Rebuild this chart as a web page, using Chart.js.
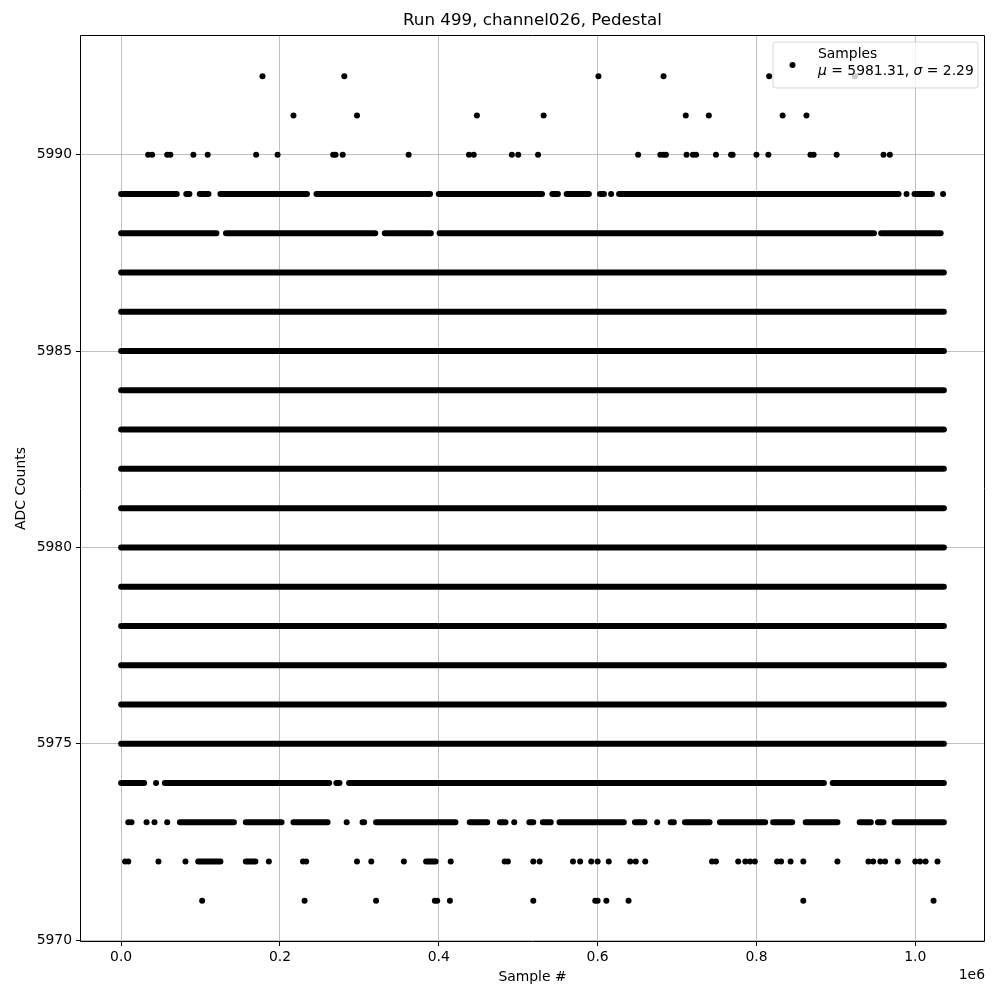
<!DOCTYPE html>
<html>
<head>
<meta charset="utf-8">
<title>Run 499, channel026, Pedestal</title>
<script src="https://cdn.jsdelivr.net/npm/chart.js@4.4.1/dist/chart.umd.min.js"></script>
<style>
  html, body { margin: 0; padding: 0; background: #fff; }
  #wrap { width: 1000px; height: 1000px; position: relative; }
</style>
</head>
<body>
<div id="wrap"><canvas id="pedestalChart"></canvas></div>
<script>
// ===== DATA (sample index, ADC level) =====

// isolated samples per ADC level
const pts5971 = [102000, 231000, 321000, 395000, 398000, 414000, 519000, 597000, 600000, 611000, 639000, 859000, 1023000];
const pts5972 = [5000, 9000, 47000, 81000, 186000, 229000, 233000, 297000, 315000, 356000, 415000, 483000, 487000, 519000, 527000,
  569000, 578000, 592000, 600000, 614000, 641000, 648000, 660000, 744000, 749000, 777000, 786000, 792000, 798000, 826000,
  831000, 843000, 859000, 902000, 941000, 947000, 956000, 962000, 978000, 1000000, 1006000, 1013000, 1028000];
const pts5973 = [9000, 13000, 32000, 42000, 58000, 284000, 495000, 675000];
const pts5974 = [44000];
const pts5989 = [617000, 989000, 1035000];
const pts5990 = [34000, 39000, 58000, 62000, 91000, 109000, 170000, 197000, 267000, 270000, 279000, 362000, 438000, 444000,
  492000, 500000, 525000, 651000, 679000, 683000, 686000, 712000, 720000, 724000, 749000, 768000, 770000, 800000, 815000,
  868000, 872000, 901000, 960000, 968000];
const pts5991 = [217000, 297000, 448000, 532000, 711000, 740000, 833000, 863000];
const pts5992 = [178000, 281000, 601000, 683000, 816000, 924000];

// runs of consecutive samples [first, last] per ADC level
const segs5972 = [[97000, 125000], [157000, 169000], [384000, 396000]];
const segs5973 = [[74000, 142000], [157000, 202000], [217000, 260000], [304000, 306000], [321000, 421000], [439000, 461000],
  [477000, 484000], [514000, 519000], [531000, 541000], [552000, 633000], [647000, 659000], [692000, 696000], [710000, 741000],
  [754000, 811000], [821000, 845000], [862000, 902000], [930000, 944000], [953000, 960000], [974000, 1036000]];
const segs5974 = [[0, 29000], [55000, 262000], [271000, 275000], [287000, 885000], [896000, 1036000]];
const segs5988 = [[0, 120000], [132000, 320000], [332000, 390000], [401000, 948000], [957000, 1032000]];
const segs5989 = [[0, 70000], [82000, 86000], [99000, 110000], [125000, 234000], [246000, 389000], [400000, 530000],
  [543000, 550000], [561000, 589000], [603000, 608000], [627000, 979000], [999000, 1021000]];

// levels that are filled over the whole run
const fullLevels = [5975, 5976, 5977, 5978, 5979, 5980, 5981, 5982, 5983, 5984, 5985, 5986, 5987];
const fullRun = [[0, 1036000]];

const xTicks = [0, 200000, 400000, 600000, 800000, 1000000];
const yTicks = [5970, 5975, 5980, 5985, 5990];

const legendLabel = 'Samples';
const muValue = '5981.31';
const sigmaValue = '2.29';

// ===== BUILD DATASETS =====

const pointSets = [
  [5971, pts5971], [5972, pts5972], [5973, pts5973], [5974, pts5974],
  [5989, pts5989], [5990, pts5990], [5991, pts5991], [5992, pts5992]
];
const segSets = [[5972, segs5972], [5973, segs5973], [5974, segs5974], [5988, segs5988], [5989, segs5989]];
fullLevels.forEach(l => segSets.push([l, fullRun]));

const points = [];
pointSets.forEach(([level, xs]) => xs.forEach(x => points.push({ x: x, y: level })));

const datasets = segSets.map(([level, runs]) => {
  const data = [];
  runs.forEach(([a, b], i) => {
    if (i > 0) data.push({ x: (runs[i - 1][1] + a) / 2, y: null });
    data.push({ x: a, y: level }, { x: b, y: level });
  });
  return {
    type: 'line',
    data: data,
    borderColor: '#000',
    borderWidth: 6,
    borderCapStyle: 'round',
    pointRadius: 0,
    spanGaps: false,
    fill: false
  };
});

datasets.push({
  type: 'scatter',
  data: points,
  backgroundColor: '#000',
  borderWidth: 0,
  pointRadius: 3
});

// ===== TEXT, FRAME AND LEGEND (matplotlib look) =====

const FONT = "'DejaVu Sans', sans-serif";

const decorPlugin = {
  id: 'decor',
  afterDatasetsDraw(chart) {
    const { ctx, chartArea: a } = chart;
    ctx.save();

    // frame (all four spines)
    const L = Math.round(a.left) + 0.5, R = Math.round(a.right) - 0.5;
    const T = Math.round(a.top) + 0.5, B = Math.round(a.bottom) - 0.5;
    ctx.strokeStyle = '#000';
    ctx.lineWidth = 1;
    ctx.beginPath();
    ctx.moveTo(L, T); ctx.lineTo(R, T); ctx.lineTo(R, B); ctx.lineTo(L, B); ctx.closePath();
    ctx.stroke();

    // title and axis labels
    ctx.fillStyle = '#000';
    ctx.textAlign = 'center';
    ctx.textBaseline = 'middle';
    ctx.font = '16.7px ' + FONT;
    ctx.fillText('Run 499, channel026, Pedestal', (a.left + a.right) / 2, 21);
    ctx.font = '13.9px ' + FONT;
    ctx.fillText('Sample #', (a.left + a.right) / 2, 977);
    ctx.save();
    ctx.translate(21, (a.top + a.bottom) / 2);
    ctx.rotate(-Math.PI / 2);
    ctx.fillText('ADC Counts', 0, 0);
    ctx.restore();
    ctx.textAlign = 'right';
    ctx.fillText('1e6', a.right, 975);

    // legend box
    const bx = 773, by = 42, bw = 205, bh = 46, r = 3;
    ctx.beginPath();
    ctx.moveTo(bx + r, by);
    ctx.arcTo(bx + bw, by, bx + bw, by + bh, r);
    ctx.arcTo(bx + bw, by + bh, bx, by + bh, r);
    ctx.arcTo(bx, by + bh, bx, by, r);
    ctx.arcTo(bx, by, bx + bw, by, r);
    ctx.closePath();
    ctx.fillStyle = 'rgba(255,255,255,0.8)';
    ctx.fill();
    ctx.strokeStyle = 'rgba(204,204,204,0.8)';
    ctx.lineWidth = 1;
    ctx.stroke();

    ctx.fillStyle = '#000';
    ctx.beginPath();
    ctx.arc(792.5, 65, 3, 0, Math.PI * 2);
    ctx.fill();

    ctx.textAlign = 'left';
    ctx.textBaseline = 'middle';
    ctx.font = '13.9px ' + FONT;
    ctx.fillText(legendLabel, 818, 54);

    let x = 818;
    const y2 = 71;
    const parts = [
      ['italic', '\u03bc'], ['normal', ' = ' + muValue + ', '],
      ['italic', '\u03c3'], ['normal', ' = ' + sigmaValue]
    ];
    parts.forEach(([style, txt]) => {
      ctx.font = (style === 'italic' ? 'italic ' : '') + '13.9px ' + FONT;
      ctx.fillText(txt, x, y2);
      x += ctx.measureText(txt).width;
    });

    ctx.restore();
  }
};

// ===== CHART =====

const ctx = document.getElementById('pedestalChart').getContext('2d');
const pedestalChart = new Chart(ctx, {
  type: 'scatter',
  data: { datasets: datasets },
  plugins: [decorPlugin],
  options: {
    responsive: true,
    maintainAspectRatio: false,
    animation: false,
    events: [],
    layout: { padding: { top: 35, right: 15, left: 0, bottom: 0 } },
    plugins: {
      legend: { display: false },
      tooltip: { enabled: false },
      title: { display: false }
    },
    scales: {
      x: {
        type: 'linear',
        min: -51800,
        max: 1087800,
        afterBuildTicks: s => { s.ticks = xTicks.map(v => ({ value: v })); },
        afterFit: s => { s.height = 58; },
        grid: { color: '#b0b0b0', lineWidth: 0.8, tickColor: '#000', tickLength: 4, tickWidth: 1 },
        border: { display: false },
        ticks: {
          color: '#000',
          padding: 3,
          maxRotation: 0,
          font: { family: FONT, size: 13.9 },
          callback: v => (v / 1e6).toFixed(1)
        }
      },
      y: {
        type: 'linear',
        min: 5969.95,
        max: 5993.05,
        afterBuildTicks: s => { s.ticks = yTicks.map(v => ({ value: v })); },
        afterFit: s => { s.width = 80; },
        grid: { color: '#b0b0b0', lineWidth: 0.8, tickColor: '#000', tickLength: 4, tickWidth: 1 },
        border: { display: false },
        ticks: {
          color: '#000',
          padding: 4,
          font: { family: FONT, size: 13.9 },
          callback: v => String(v)
        }
      }
    }
  }
});
</script>
</body>
</html>
